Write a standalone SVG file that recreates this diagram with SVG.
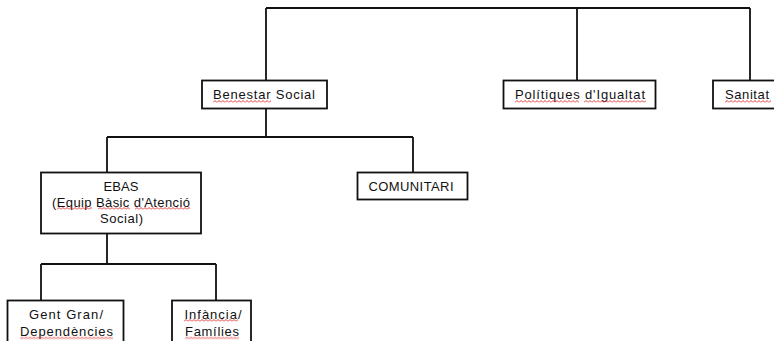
<svg xmlns="http://www.w3.org/2000/svg" width="774" height="341" viewBox="0 0 774 341">
<style>
.box{fill:#fff;stroke:#111;stroke-width:1.8}
.con{fill:none;stroke:#111;stroke-width:1.8}
.t{font-family:"Liberation Sans",Arial,sans-serif;font-size:13px;fill:#111;text-anchor:middle}
</style>
<defs>
<pattern id="wave" patternUnits="userSpaceOnUse" width="4" height="3">
<path d="M0,2.5 L2,0.5 L4,2.5" fill="none" stroke="#e02020" stroke-width="0.9"/>
</pattern>
</defs>
<rect width="774" height="341" fill="#fff"/>
<g id="connectors" class="con">
<path d="M266,8 H750 M266,8 V80 M577,8 V80 M750,8 V80"/>
<path d="M266,108.5 V137 M107,137 H413 M107,137 V172 M413,137 V172"/>
<path d="M107,233.5 V264 M41,264 H216 M41,264 V300 M216,264 V300"/>
</g>
<g id="benestar">
<rect class="box" x="202" y="80.5" width="125" height="28"/>
<text class="t" x="264" y="99" textLength="102">Benestar Social</text>
</g>
<g id="politiques">
<rect class="box" x="503.5" y="80.5" width="152" height="28"/>
<text class="t" x="580" y="99" textLength="130">Polítiques d'Igualtat</text>
</g>
<g id="sanitat">
<rect class="box" x="713" y="80.5" width="80" height="28"/>
<text class="t" x="747" y="99" textLength="44">Sanitat</text>
</g>
<g id="ebas">
<rect class="box" x="41" y="172.5" width="160" height="61"/>
<text class="t" x="121" y="190.5" textLength="35">EBAS</text>
<text class="t" x="121" y="206.5" textLength="138">(Equip Bàsic d'Atenció</text>
<text class="t" x="121.5" y="223" textLength="43">Social)</text>
</g>
<g id="comunitari">
<rect class="box" x="357.5" y="172.5" width="110" height="27"/>
<text class="t" x="411" y="191" textLength="85">COMUNITARI</text>
</g>
<g id="gentgran">
<rect class="box" x="7.5" y="300.5" width="116" height="60"/>
<text class="t" x="66" y="318.5" textLength="74">Gent Gran/</text>
<text class="t" x="66.5" y="335.5" textLength="93">Dependències</text>
</g>
<g id="infancia">
<rect class="box" x="172" y="300.5" width="79" height="60"/>
<text class="t" x="213" y="318.5" textLength="57">Infància/</text>
<text class="t" x="212" y="335.5" textLength="54">Famílies</text>
</g>
<g id="spelling">
<g transform="translate(213,100)"><rect width="58" height="3" fill="url(#wave)"/></g>
<g transform="translate(515,100)"><rect width="64" height="3" fill="url(#wave)"/></g>
<g transform="translate(584,100)"><rect width="62" height="3" fill="url(#wave)"/></g>
<g transform="translate(725,100)"><rect width="46" height="3" fill="url(#wave)"/></g>
<g transform="translate(57,207)"><rect width="35" height="3" fill="url(#wave)"/></g>
<g transform="translate(98,207)"><rect width="32" height="3" fill="url(#wave)"/></g>
<g transform="translate(135,207)"><rect width="55" height="3" fill="url(#wave)"/></g>
<g transform="translate(184,319)"><rect width="54" height="3" fill="url(#wave)"/></g>
<g transform="translate(20,336.5)"><rect width="93" height="3" fill="url(#wave)"/></g>
<g transform="translate(185,336.5)"><rect width="54" height="3" fill="url(#wave)"/></g>
</g>
</svg>
